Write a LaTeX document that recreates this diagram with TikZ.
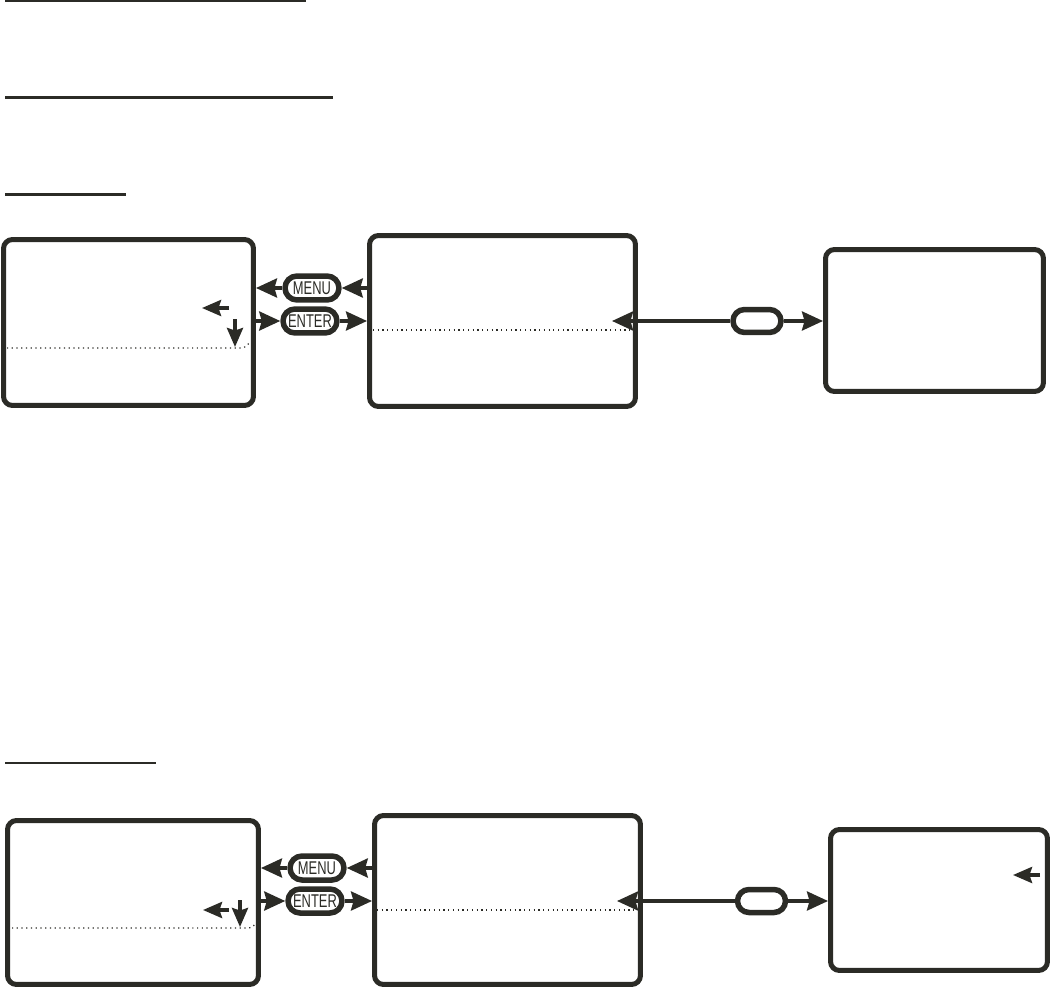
\documentclass[tikz,border=0pt]{standalone}
\usepackage{fontspec}
\usepackage{tikz}
\usetikzlibrary{calc, positioning, arrows.meta}
\usepackage{xcolor}
\definecolor{inkDark}{RGB}{43, 43, 38}
\newfontfamily\keyfont[FakeStretch=0.7]{Liberation Sans}

\begin{document}
\begin{tikzpicture}[x=0.02cm, y=-0.02cm,
    screen/.style={draw=inkDark, line width=0.1cm, rounded corners=0.18cm},
    keybtn/.style={draw=inkDark, line width=0.11cm, rounded corners=0.24cm,
          minimum width=1.08cm, minimum height=0.48cm, inner sep=0pt,
          font=\keyfont\fontsize{10.5}{11}\selectfont, text=inkDark},
    blankkey/.style={keybtn, minimum width=0.96cm, minimum height=0.46cm, rounded corners=0.23cm},
    conn/.style={draw=inkDark, line width=2pt,
          -{Stealth[length=0.42cm, width=0.38cm, inset=0.05cm]}},
    cursor/.style={conn, -{Stealth[length=0.38cm, width=0.32cm, inset=0.05cm]}},
    sep/.style={draw=inkDark, line width=0.7pt, dotted},
    rule/.style={draw=inkDark, line width=0.05cm}]
  \useasboundingbox (0,0) rectangle (1052,990);

  % Heading rules
  \draw[rule] (5,1) -- (306,1);
  \draw[rule] (5,97.5) -- (333,97.5);
  \draw[rule] (5,194.5) -- (126,194.5);
  \draw[rule] (5,763) -- (156,763);

  % Upper row of screens
  \node[screen, minimum width=5.0cm, minimum height=3.32cm] (scrA) at (128.5,322.5) {};
  \node[screen, minimum width=5.32cm, minimum height=3.42cm] (scrB) at (502.5,321) {};
  \node[screen, minimum width=4.36cm, minimum height=2.84cm] (scrC) at (934.5,320.5) {};
  \node[keybtn] (menuA) at (312,288) {MENU};
  \node[keybtn] (enterA) at (310,321) {ENTER};
  \node[blankkey] (keyA) at (757,321) {};
  \coordinate (tipB) at (612,321);

  \draw[sep] (7,348) -- (240,348) to[out=0, in=-120] (249,343);
  \draw[sep] (373,330) -- (630,330);
  \draw[cursor] (229,308) -- (202,308);
  \draw[cursor] (235,319) -- (235,347);

  \draw[conn] (menuA.east -| scrB.west) -- (menuA.east);
  \draw[conn] (menuA.west) -- (menuA.west -| scrA.east);
  \draw[conn] (enterA.west -| scrA.east) -- (enterA.west);
  \draw[conn] (enterA.east) -- (enterA.east -| scrB.west);
  \draw[conn] (keyA.west) -- (tipB);
  \draw[conn] (keyA.east) -- (keyA.east -| scrC.west);

  % Lower row of screens
  \node[screen, minimum width=5.02cm, minimum height=3.28cm] (scrD) at (133,902.5) {};
  \node[screen, minimum width=5.32cm, minimum height=3.38cm] (scrE) at (507.5,900) {};
  \node[screen, minimum width=4.34cm, minimum height=2.82cm] (scrF) at (939,900) {};
  \node[keybtn] (menuB) at (317,868) {MENU};
  \node[keybtn] (enterB) at (315,901) {ENTER};
  \node[blankkey] (keyB) at (761.5,901) {};
  \coordinate (tipE) at (617,901);

  \draw[sep] (12,928) -- (247,928) to[out=0, in=-120] (255,924);
  \draw[sep] (377,910) -- (635,910);
  \draw[cursor] (229,910) -- (203,910);
  \draw[cursor] (240,900) -- (240,927);
  \draw[cursor] (1040,875) -- (1013,875);

  \draw[conn] (menuB.east -| scrE.west) -- (menuB.east);
  \draw[conn] (menuB.west) -- (menuB.west -| scrD.east);
  \draw[conn] (enterB.west -| scrD.east) -- (enterB.west);
  \draw[conn] (enterB.east) -- (enterB.east -| scrE.west);
  \draw[conn] (keyB.west) -- (tipE);
  \draw[conn] (keyB.east) -- (keyB.east -| scrF.west);
\end{tikzpicture}
\end{document}
